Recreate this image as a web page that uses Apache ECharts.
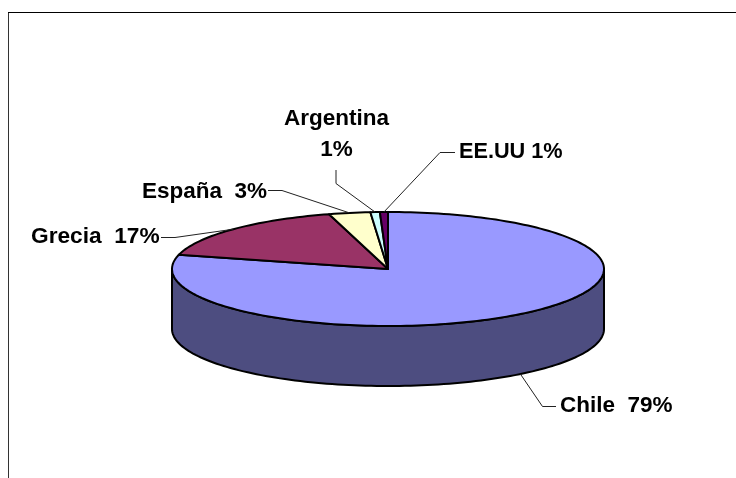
<!DOCTYPE html>
<html><head><meta charset="utf-8">
<style>html,body{margin:0;padding:0;background:#fff}#c{width:736px;height:478px}</style>
<script src="https://cdn.jsdelivr.net/npm/echarts@6/dist/echarts.min.js"></script>
</head><body><div id="c"></div>
<script>
const categories = ['Chile','Grecia','España','Argentina','EE.UU'];
const values = [79.0,16.6,3.1,0.7,0.6];
const percentLabels = ['Chile  79%','Grecia  17%','España  3%','Argentina\n1%','EE.UU 1%'];
const topColors = ['#9999FF','#993366','#FFFFCC','#CCFFFF','#660066'];
const sideColors = ['#4D4D80','#4D1A33','#808066','#668080','#330033'];

const cx=388, cy=269, rx=216, ry=57, depth=60;
const FONT='"Liberation Sans", Arial, sans-serif';
const total=values.reduce((a,b)=>a+b,0);
const pt=(deg,dy=0)=>{const r=deg*Math.PI/180;return [cx+rx*Math.sin(r),cy-ry*Math.cos(r)+dy];};
const arc=(a,b,dy=0)=>{const n=Math.max(2,Math.ceil((b-a)/1.5));const o=[];for(let i=0;i<=n;i++)o.push(pt(a+(b-a)*i/n,dy));return o;};

// label layout: text anchor, font size and leader elbows
const labelPos=[
 {x:560,y:406,size:22.5,align:'left',elbow:[[556,406.5],[542.5,406.5]],side:true},
 {x:31,y:237,size:22.7,align:'left',elbow:[[161,237.5],[175,237.5]]},
 {x:142,y:192,size:22.5,align:'left',elbow:[[268,190.5],[282,190.5]]},
 {x:336.5,y:134.5,size:22.5,align:'center',elbow:[[336,170],[336,183.5]]},
 {x:459,y:152.5,size:21.7,align:'left',elbow:[[455,152.5],[440,152.5]]}
];

function renderItem(params,api){
  const i=params.dataIndex;
  const start=api.value(1)/total*360, end=api.value(2)/total*360;
  const mid=(start+end)/2;
  const children=[];
  const style=(fill)=>({fill,stroke:'#000',lineWidth:2,lineJoin:'round'});
  // the visible wall: front half of the ellipse only
  const a=Math.max(start,90), b=Math.min(end,270);
  if(b>a){
    children.push({type:'polygon',z2:1,shape:{points:arc(a,b).concat(arc(a,b,depth).reverse())},style:style(sideColors[i])});
  }
  children.push({type:'polygon',z2:2,shape:{points:[[cx,cy]].concat(arc(start,end))},style:style(topColors[i])});
  const L=labelPos[i];
  const anchor=pt(mid,L.side?depth:0);
  children.push({type:'polyline',z2:3,shape:{points:L.elbow.concat([anchor])},style:{fill:'none',stroke:'#222',lineWidth:1}});
  children.push({type:'text',z2:4,style:{x:L.x,y:L.y,text:percentLabels[i],fill:'#000',font:'bold '+L.size+'px '+FONT,
    textAlign:L.align,textVerticalAlign:'middle',lineHeight:31}});
  return {type:'group',children};
}
let acc=0;
const rows=values.map((v,i)=>{const r=[categories[i],acc,acc+v];acc+=v;return r;});
const chart=echarts.init(document.getElementById('c'),null,{renderer:'canvas'});
chart.setOption({
  animation:false,
  backgroundColor:'#fff',
  series:[{type:'custom',coordinateSystem:'none',renderItem,data:rows,encode:{itemName:0}}],
  graphic:[
    {type:'line',z:10,shape:{x1:8.5,y1:12,x2:8.5,y2:478},style:{stroke:'#333',lineWidth:1}},
    {type:'line',z:10,shape:{x1:8,y1:12.5,x2:736,y2:12.5},style:{stroke:'#000',lineWidth:1}}
  ]
});
</script></body></html>
